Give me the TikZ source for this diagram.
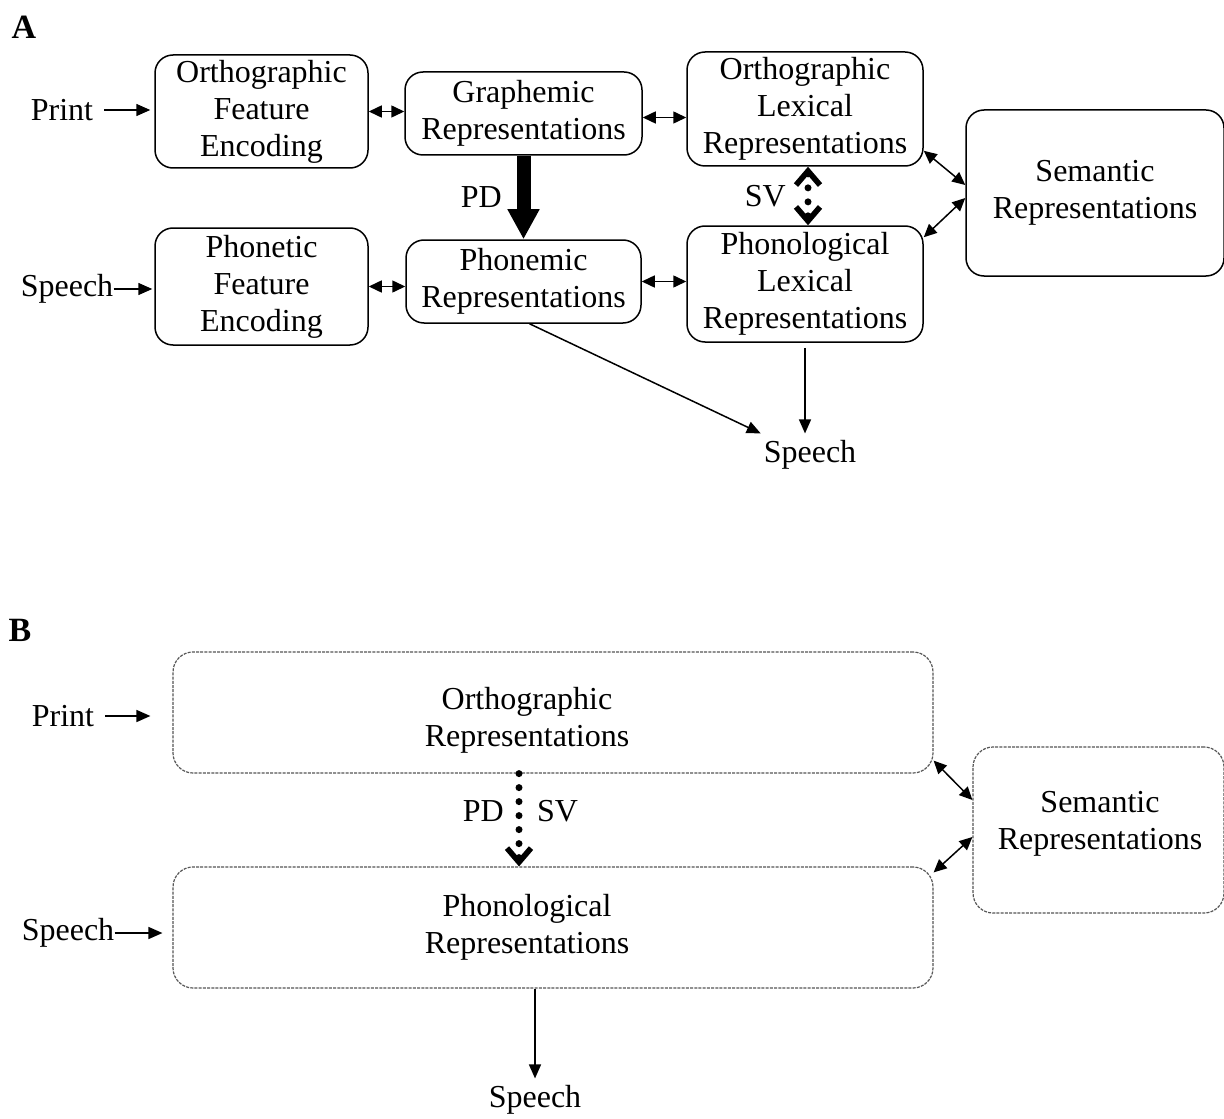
\documentclass[tikz,border=0pt]{standalone}
\usepackage{fontspec}
\setmainfont{Liberation Serif}
\usetikzlibrary{arrows.meta}
\definecolor{boxgray}{HTML}{555555}

\begin{document}
\begin{tikzpicture}[x=0.5pt, y=-0.5pt,
    every node/.style={font=\fontsize{16}{18.5}\selectfont, align=center},
    box/.style={draw, line width=0.75pt, rounded corners=9pt, inner sep=0pt},
    dbox/.style={draw=boxgray, line width=0.6pt, dash pattern=on 1.5pt off 0.6pt,
                 rounded corners=10pt, inner sep=0pt},
    link/.style={line width=0.75pt, -{Triangle[length=7pt,width=6pt]}},
    twoway/.style={line width=0.75pt,
                   {Triangle[length=6.5pt,width=6pt]}-{Triangle[length=6.5pt,width=6pt]}},
    heavy/.style={line width=7pt, -{Triangle[length=15pt,width=15pt]}},
    dotlink/.style={line width=3.5pt, line cap=round, dash pattern=on 0pt off 7pt},
    vtip/.tip={Straight Barb[length=7pt,width=12pt,line width=2.8pt]},
    panel/.style={font=\bfseries\fontsize{17}{20}\selectfont}]
  \useasboundingbox (0,0) rectangle (1224,1118);

  \node[panel] (labA) at (24,27) {A};
  \node[box, minimum width=106.5pt, minimum height=56.5pt] (ofe) at (261.5,111.5)
    {Orthographic\\Feature\\Encoding};
  \node[box, minimum width=118.5pt, minimum height=41.5pt] (graph) at (523.5,113.5)
    {Graphemic\\Representations};
  \node[box, minimum width=118pt, minimum height=57pt] (olr) at (805,109)
    {Orthographic\\Lexical\\Representations};
  \node[box, minimum width=129pt, minimum height=83pt] (semA) at (1095,193)
    {Semantic\\Representations};
  \node[box, minimum width=106.5pt, minimum height=58.5pt] (pfe) at (261.5,286.5)
    {Phonetic\\Feature\\Encoding};
  \node[box, minimum width=117.5pt, minimum height=41.5pt] (phonem) at (523.5,281.5)
    {Phonemic\\Representations};
  \node[box, minimum width=118pt, minimum height=58pt] (plr) at (805,284)
    {Phonological\\Lexical\\Representations};
  \node (printA) at (62,110) {Print};
  \node[inner sep=0pt] (speechA) at (67,289) {Speech};
  \node (outA) at (810,455) {Speech};

  \draw[link] ([xshift=2pt]printA.east) -- ([xshift=-2pt]printA.east -| ofe.west);
  \draw[link] (speechA.east) -- ([xshift=-1pt]speechA.east -| pfe.west);
  \draw[twoway] (ofe.east) -- (ofe.east -| graph.west);
  \draw[twoway] ([yshift=-2pt]graph.east) -- ([yshift=-2pt]graph.east -| olr.west);
  \draw[twoway] (pfe.east) -- (pfe.east -| phonem.west);
  \draw[twoway] (phonem.east) -- (phonem.east -| plr.west);
  \draw[twoway] ([yshift=8pt]olr.south east) -- ([yshift=4pt]semA.west);
  \draw[twoway] ([yshift=-6pt]plr.north east) -- ([yshift=-2.5pt]semA.west);
  \draw[heavy] (graph.south) -- (phonem.north)
    node[midway, left, xshift=-4pt] {PD};
  \draw[dotlink, vtip-vtip] ([xshift=1.5pt]olr.south) -- ([xshift=1.5pt]plr.north)
    node[midway, left, xshift=-6pt] {SV};
  \draw[link] ([xshift=3pt]phonem.south) -- ([xshift=2pt]outA.north west);
  \draw[link] ([yshift=-2.5pt]plr.south) -- (plr.south |- outA.north);

  \node[panel] (labB) at (20,630) {B};
  \node[dbox, minimum width=380pt, minimum height=60.5pt] (orthB) at (553,712.5) {};
  \node (orthtxt) at (527,720) {Orthographic\\Representations};
  \node[dbox, minimum width=380pt, minimum height=60.5pt] (phonB) at (553,927.5) {};
  \node (phontxt) at (527,927) {Phonological\\Representations};
  \node[dbox, minimum width=125.5pt, minimum height=83pt] (semB) at (1098.5,830) {};
  \node (semtxt) at (1100,824) {Semantic\\Representations};
  \node (printB) at (63,716) {Print};
  \node[inner sep=0pt] (speechB) at (68,933) {Speech};
  \node (outB) at (535,1100) {Speech};

  \draw[link] ([xshift=2pt]printB.east) -- ([xshift=-11pt]printB.east -| orthB.west);
  \draw[link] (speechB.east) -- ([xshift=-5pt]speechB.east -| phonB.west);
  \draw[twoway] ([yshift=6.5pt]orthB.south east) -- ([yshift=15pt]semB.west);
  \draw[twoway] ([yshift=-3pt]phonB.north east) -- ([yshift=-3.5pt]semB.west);
  \draw[dotlink, -vtip] ([xshift=-17pt]orthB.south) -- ([xshift=-17pt]phonB.north)
    node[pos=0.4, left, xshift=-2.5pt] {PD}
    node[pos=0.4, right, xshift=4pt] {SV};
  \draw[link] (outB.north |- phonB.south) -- (outB.north);
\end{tikzpicture}
\end{document}
